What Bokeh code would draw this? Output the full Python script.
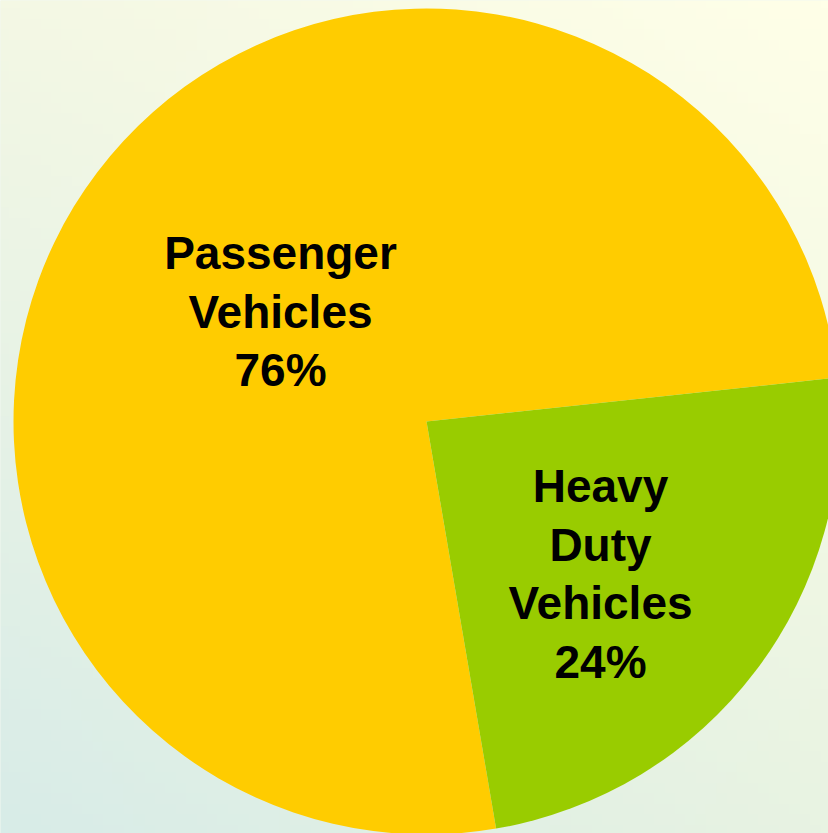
import numpy as np
from bokeh.plotting import figure
from bokeh.models import Range1d, ColumnDataSource
from bokeh.core.properties import value
from bokeh.embed import file_html
from bokeh.resources import INLINE

# ---- data ----
categories = ["Passenger Vehicles", "Heavy Duty Vehicles"]
label_lines = [["Passenger", "Vehicles"], ["Heavy", "Duty", "Vehicles"]]
shares = [76, 24]
colors = ["#FFCC00", "#99CC00"]

# ---- layout ----
W, H = 828, 833
CX, CY = 426, H - 421
R = 413
START_DEG = 6.1
LABEL_CENTERS = [(280, 312), (600, 574.5)]  # screen coords
LINE_SP = 58.7
FONT_PX = 46

p = figure(width=W, height=H, x_range=Range1d(0, W), y_range=Range1d(0, H),
           output_backend="svg", toolbar_location=None, min_border=0)
p.axis.visible = False
p.grid.visible = False
p.outline_line_color = None
p.border_fill_color = "#E8F3E6"
p.background_fill_color = "#E8F3E6"

# background gradient
nx, ny = 80, 80
u = np.linspace(0, 1, nx)[None, :]
v = np.linspace(0, 1, ny)[:, None]  # 0 = bottom
TL = np.array([244, 248, 228]); TR = np.array([255, 255, 232])
BL = np.array([216, 236, 232]); BR = np.array([232, 243, 226])
img = np.zeros((ny, nx), dtype=np.uint32)
view = img.view(dtype=np.uint8).reshape((ny, nx, 4))
for k in range(3):
    top = TL[k] * (1 - u) + TR[k] * u
    bot = BL[k] * (1 - u) + BR[k] * u
    view[:, :, k] = (bot * (1 - v) + top * v).astype(np.uint8)
view[:, :, 3] = 255
p.image_rgba(image=[img], x=-2, y=-2, dw=W + 4, dh=H + 4)

# wedges
fr = np.array(shares, dtype=float) / sum(shares)
cum = np.concatenate([[0], np.cumsum(fr)[:-1]])
start = np.radians(START_DEG) + 2 * np.pi * cum
end = start + 2 * np.pi * fr
src = ColumnDataSource(dict(cat=categories, start=start, end=end, color=colors))
p.wedge(x=CX, y=CY, radius=R, start_angle="start", end_angle="end",
        fill_color="color", line_color=None, source=src)

# labels
tx, ty, tt = [], [], []
for lines, s, (lx, ly) in zip(label_lines, shares, LABEL_CENTERS):
    allines = lines + [f"{s}%"]
    n = len(allines)
    for i, t in enumerate(allines):
        sy = ly + (i - (n - 1) / 2) * LINE_SP - 1
        tx.append(lx)
        ty.append(H - sy)
        tt.append(t)
p.text(x=tx, y=ty, text=tt, text_align="center", text_baseline="alphabetic",
       text_font=value("Liberation Sans"), text_font_size=value(f"{FONT_PX}px"),
       text_font_style="bold", text_color="#000000")

open("out.html", "w").write(file_html(p, INLINE))
